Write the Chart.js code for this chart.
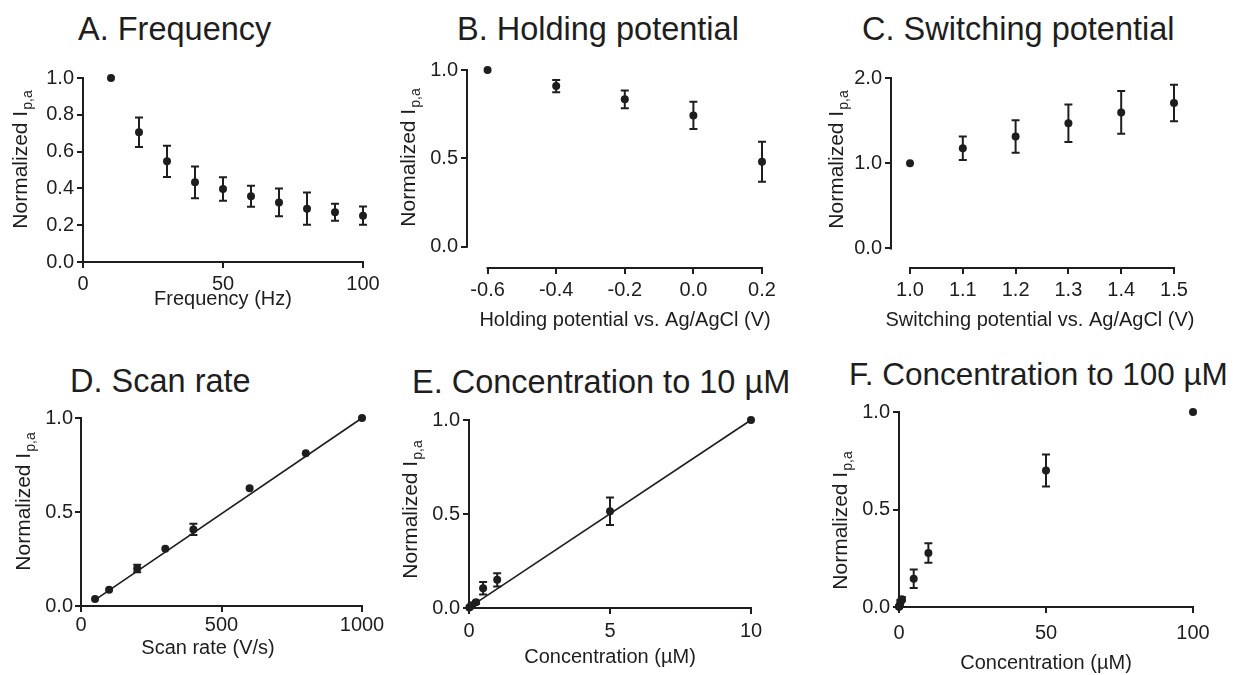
<!DOCTYPE html>
<html>
<head>
<meta charset="utf-8">
<script src="https://cdn.jsdelivr.net/npm/chart.js@4.4.1/dist/chart.umd.min.js"></script>
<style>
  body { margin: 0; background: #fff; width: 1235px; height: 675px; overflow: hidden; position: relative;
         font-family: "Liberation Sans", Arial, sans-serif; color: #1e1e1e; }
  canvas { position: absolute; left: 0; top: 0; }
  .ttl { position: absolute; font-size: 32.5px; line-height: 32.5px; white-space: nowrap; }
</style>
</head>
<body>
<div class="ttl" style="left:78px;top:12.5px">A. Frequency</div>
<div class="ttl" style="left:457px;top:12.5px">B. Holding potential</div>
<div class="ttl" style="left:862px;top:12.5px">C. Switching potential</div>
<div class="ttl" style="left:70px;top:364.5px">D. Scan rate</div>
<div class="ttl" style="left:412px;top:365.5px">E. Concentration to 10 µM</div>
<div class="ttl" style="left:849px;top:358.5px;font-size:31.5px;line-height:31.5px">F. Concentration to 100 µM</div>

<canvas id="chartA" width="1235" height="675"></canvas>
<canvas id="chartB" width="1235" height="675"></canvas>
<canvas id="chartC" width="1235" height="675"></canvas>
<canvas id="chartD" width="1235" height="675"></canvas>
<canvas id="chartE" width="1235" height="675"></canvas>
<canvas id="chartF" width="1235" height="675"></canvas>

<script>
// A. Frequency
const freqHz   = [10, 20, 30, 40, 50, 60, 70, 80, 90, 100];
const freqI    = [1.0, 0.705, 0.547, 0.433, 0.397, 0.357, 0.324, 0.29, 0.27, 0.252];
const freqErr  = [0, 0.08, 0.085, 0.086, 0.064, 0.057, 0.075, 0.088, 0.046, 0.049];

// B. Holding potential
const holdV    = [-0.6, -0.4, -0.2, 0.0, 0.2];
const holdI    = [1.0, 0.909, 0.834, 0.743, 0.481];
const holdErr  = [0, 0.035, 0.05, 0.077, 0.113];

// C. Switching potential
const switchV   = [1.0, 1.1, 1.2, 1.3, 1.4, 1.5];
const switchI   = [1.0, 1.176, 1.314, 1.47, 1.596, 1.706];
const switchErr = [0, 0.137, 0.19, 0.22, 0.25, 0.215];

// D. Scan rate
const scanRate  = [50, 100, 200, 300, 400, 600, 800, 1000];
const scanI     = [0.037, 0.087, 0.2, 0.304, 0.407, 0.626, 0.813, 1.0];
const scanErr   = [0, 0, 0.02, 0, 0.03, 0, 0, 0];
const scanFitX  = [50, 1000];
const scanFitY  = [0.033, 1.0];

// E. Concentration to 10 uM
const conc10    = [0.01, 0.05, 0.1, 0.25, 0.5, 1, 5, 10];
const conc10I   = [0.003, 0.008, 0.015, 0.03, 0.105, 0.15, 0.515, 1.0];
const conc10Err = [0, 0, 0.005, 0.008, 0.033, 0.035, 0.073, 0];
const conc10FitX = [0.01, 10];
const conc10FitY = [0.003, 1.0];

// F. Concentration to 100 uM
const conc100    = [0.01, 0.05, 0.1, 0.25, 0.5, 1, 5, 10, 50, 100];
const conc100I   = [0.001, 0.002, 0.004, 0.008, 0.028, 0.04, 0.145, 0.277, 0.70, 1.0];
const conc100Err = [0, 0, 0, 0.003, 0.008, 0.01, 0.047, 0.05, 0.082, 0];

// tick values
const freqTicksX   = [0, 50, 100];
const freqTicksY   = [0, 0.2, 0.4, 0.6, 0.8, 1.0];
const holdTicksX   = [-0.6, -0.4, -0.2, 0.0, 0.2];
const switchTicksX = [1.0, 1.1, 1.2, 1.3, 1.4, 1.5];
const switchTicksY = [0, 1.0, 2.0];
const halfTicksY   = [0, 0.5, 1.0];
const scanTicksX   = [0, 500, 1000];
const conc10TicksX = [0, 5, 10];
const conc100TicksX = [0, 50, 100];

const INK = '#1e1e1e';
const FONT = '"Liberation Sans", Arial, sans-serif';
const W = 1235, H = 675;

const pts = (xs, ys) => xs.map((v, i) => ({ x: v, y: ys[i] }));

// prism-style axes, error bars and axis titles
const prismPlugin = {
  id: 'prism',
  beforeDatasetsDraw(chart) {
    const { ctx, chartArea, scales: { x, y } } = chart;
    const o = chart.options.plugins.prism;
    ctx.save();
    ctx.strokeStyle = INK;
    ctx.lineWidth = 2;
    ctx.beginPath();
    ctx.moveTo(x.getPixelForValue(o.xLine[0]) - 1, chartArea.bottom);
    ctx.lineTo(x.getPixelForValue(o.xLine[1]) + 1, chartArea.bottom);
    ctx.moveTo(chartArea.left, y.getPixelForValue(o.yLine[0]) + 1);
    ctx.lineTo(chartArea.left, y.getPixelForValue(o.yLine[1]) - 1);
    ctx.stroke();

    chart.data.datasets.forEach(ds => {
      if (!ds.errors) return;
      ds.data.forEach((p, j) => {
        const e = ds.errors[j];
        if (!e) return;
        const px = x.getPixelForValue(p.x);
        const y1 = y.getPixelForValue(p.y + e);
        const y2 = y.getPixelForValue(p.y - e);
        ctx.beginPath();
        ctx.moveTo(px, y1); ctx.lineTo(px, y2);
        ctx.moveTo(px - 4, y1); ctx.lineTo(px + 4, y1);
        ctx.moveTo(px - 4, y2); ctx.lineTo(px + 4, y2);
        ctx.stroke();
      });
    });
    ctx.restore();
  },
  afterDraw(chart) {
    const { ctx } = chart;
    const o = chart.options.plugins.prism;
    ctx.save();
    ctx.fillStyle = INK;
    // x title
    ctx.font = `20px ${FONT}`;
    ctx.textAlign = 'center';
    ctx.textBaseline = 'middle';
    ctx.fillText(o.xTitle, o.xTitlePos[0], o.xTitlePos[1]);
    // y title with subscript
    ctx.translate(o.yTitlePos[0], o.yTitlePos[1]);
    ctx.rotate(-Math.PI / 2);
    ctx.textAlign = 'left';
    ctx.textBaseline = 'alphabetic';
    ctx.font = `21px ${FONT}`;
    const main = 'Normalized I';
    const w1 = ctx.measureText(main).width;
    ctx.font = `14px ${FONT}`;
    const w2 = ctx.measureText('p,a').width;
    const start = -(w1 + w2) / 2;
    ctx.font = `21px ${FONT}`;
    ctx.fillText(main, start, 0);
    ctx.font = `14px ${FONT}`;
    ctx.fillText('p,a', start + w1 + 1, 5);
    ctx.restore();
  }
};

function makeScale(min, max, ticks, fmt, pad, side) {
  return {
    type: 'linear', min, max,
    afterBuildTicks: s => { s.ticks = ticks.map(v => ({ value: v })); },
    afterFit: s => { if (side === 'y') s.width = 50; else s.height = 40; },
    border: { display: false },
    grid: { drawOnChartArea: false, drawTicks: true, tickLength: 6, color: INK, lineWidth: 2 },
    ticks: { color: INK, font: { family: FONT, size: 20 }, padding: pad, callback: fmt, maxRotation: 0, autoSkip: false }
  };
}

const f1 = v => v.toFixed(1);
const f0 = v => String(v);

function panel(id, area, sx, sy, datasets, prism) {
  const [left, top, right, bottom] = area;
  new Chart(document.getElementById(id), {
    type: 'scatter',
    data: { datasets },
    options: {
      responsive: false,
      animation: false,
      events: [],
      layout: { padding: { left: left - 50, top: top, right: W - right, bottom: H - bottom - 40 } },
      plugins: { legend: { display: false }, tooltip: { enabled: false }, prism },
      scales: { x: sx, y: sy }
    },
    plugins: [prismPlugin]
  });
}

const dots = (xs, ys, errs) => ({
  data: pts(xs, ys), errors: errs, clip: false,
  pointRadius: 4, pointBackgroundColor: INK, pointBorderColor: INK, pointBorderWidth: 0, showLine: false
});
const fit = (xs, ys) => ({
  data: pts(xs, ys), clip: false, showLine: true, borderColor: INK, borderWidth: 1.6, pointRadius: 0
});

panel('chartA', [83, 78, 363, 262],
  makeScale(0, 100, freqTicksX, f0, 4, 'x'),
  makeScale(0, 1, freqTicksY, f1, 3, 'y'),
  [dots(freqHz, freqI, freqErr)],
  { xLine: [0, 100], yLine: [0, 1], xTitle: 'Frequency (Hz)', xTitlePos: [223, 299], yTitlePos: [27, 160] });

panel('chartB', [467, 70, 762, 268],
  makeScale(-0.66, 0.2, holdTicksX, f1, 4, 'x'),
  makeScale(-0.12, 1, halfTicksY, f1, 3, 'y'),
  [dots(holdV, holdI, holdErr)],
  { xLine: [-0.6, 0.2], yLine: [0, 1], xTitle: 'Holding potential vs. Ag/AgCl (V)', xTitlePos: [625, 320], yTitlePos: [415, 158] });

panel('chartC', [891, 78, 1174, 268],
  makeScale(0.964, 1.5, switchTicksX, f1, 4, 'x'),
  makeScale(-0.23, 2, switchTicksY, f1, 3, 'y'),
  [dots(switchV, switchI, switchErr)],
  { xLine: [1.0, 1.5], yLine: [0, 2], xTitle: 'Switching potential vs. Ag/AgCl (V)', xTitlePos: [1040, 320], yTitlePos: [843, 160] });

panel('chartD', [81, 418, 362, 606],
  makeScale(0, 1000, scanTicksX, f0, 1, 'x'),
  makeScale(0, 1, halfTicksY, f1, 2, 'y'),
  [fit(scanFitX, scanFitY), dots(scanRate, scanI, scanErr)],
  { xLine: [0, 1000], yLine: [0, 1], xTitle: 'Scan rate (V/s)', xTitlePos: [208, 648], yTitlePos: [30, 502] });

panel('chartE', [469, 420, 751, 608],
  makeScale(0, 10, conc10TicksX, f0, 5, 'x'),
  makeScale(0, 1, halfTicksY, f1, 3, 'y'),
  [fit(conc10FitX, conc10FitY), dots(conc10, conc10I, conc10Err)],
  { xLine: [0, 10], yLine: [0, 1], xTitle: 'Concentration (µM)', xTitlePos: [610, 657], yTitlePos: [417, 510] });

panel('chartF', [899, 412, 1193, 607],
  makeScale(0, 100, conc100TicksX, f0, 8, 'x'),
  makeScale(0, 1, halfTicksY, f1, 3, 'y'),
  [dots(conc100, conc100I, conc100Err)],
  { xLine: [0, 100], yLine: [0, 1], xTitle: 'Concentration (µM)', xTitlePos: [1046, 663], yTitlePos: [847, 521] });
</script>
</body>
</html>
